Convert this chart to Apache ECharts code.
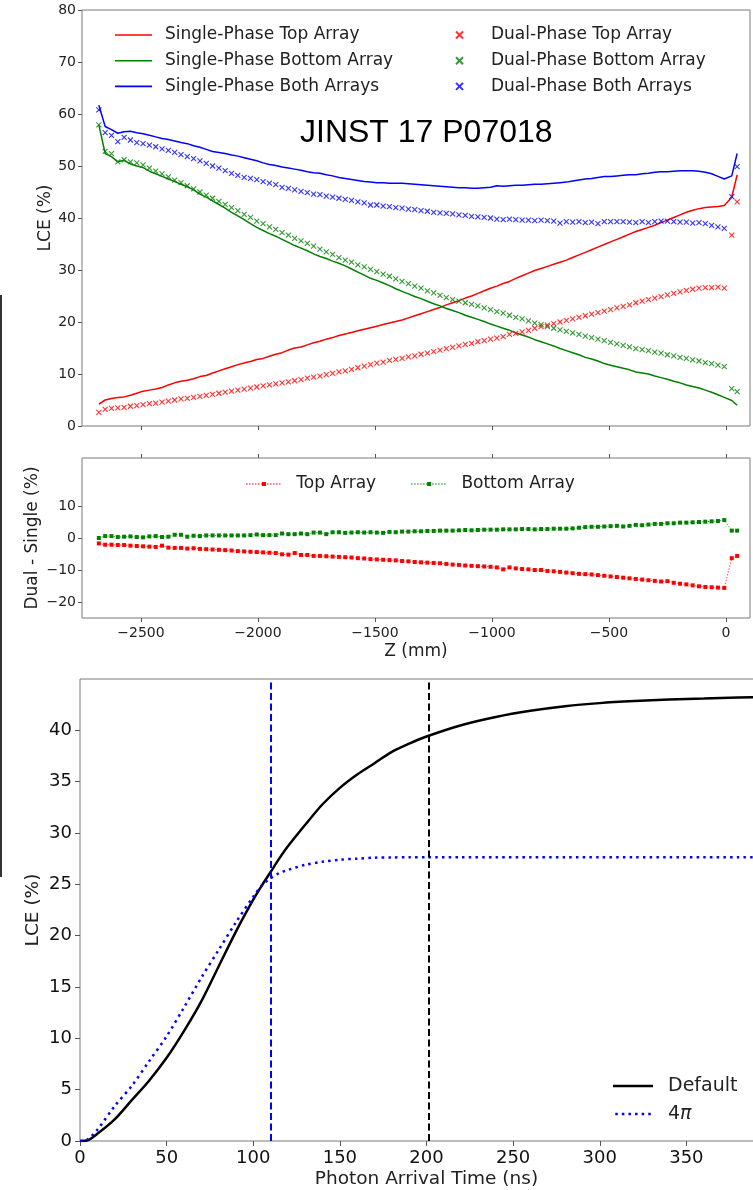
<!DOCTYPE html>
<html>
<head>
<meta charset="utf-8">
<script src="https://cdn.jsdelivr.net/npm/echarts@6/dist/echarts.min.js"></script>
<style>
  html, body { margin: 0; padding: 0; background: #fff; }
  #chart { width: 753px; height: 1190px; }
</style>
</head>
<body>
<div id="chart"></div>
<script>
// z positions (mm) shared by all LCE profiles
const zPos = [
  -2680, -2653, -2626, -2599, -2572, -2545, -2518, -2491, -2464, -2437,
  -2410, -2383, -2356, -2329, -2302, -2275, -2248, -2221, -2194, -2167,
  -2140, -2113, -2086, -2059, -2032, -2005, -1978, -1951, -1924, -1897,
  -1870, -1843, -1816, -1789, -1762, -1735, -1708, -1681, -1654, -1627,
  -1600, -1573, -1546, -1519, -1492, -1465, -1438, -1411, -1384, -1357,
  -1330, -1303, -1276, -1249, -1222, -1195, -1168, -1141, -1114, -1087,
  -1060, -1033, -1006, -979, -952, -925, -898, -871, -844, -817,
  -790, -763, -736, -709, -682, -655, -628, -601, -574, -547,
  -520, -493, -466, -439, -412, -385, -358, -331, -304, -277,
  -250, -223, -196, -169, -142, -115, -88, -61, -34, -7,
  25, 48
];

const singleTop = [
  4.2, 5.0, 5.3, 5.5, 5.6, 5.9, 6.3, 6.7, 6.9, 7.1,
  7.4, 7.9, 8.3, 8.6, 8.8, 9.1, 9.5, 9.7, 10.2, 10.6,
  11.0, 11.4, 11.8, 12.1, 12.4, 12.8, 13.0, 13.4, 13.8, 14.1,
  14.6, 15.0, 15.2, 15.6, 16.0, 16.3, 16.7, 17.0, 17.4, 17.7,
  18.0, 18.3, 18.6, 18.9, 19.2, 19.5, 19.8, 20.1, 20.4, 20.8,
  21.2, 21.6, 22.0, 22.4, 22.8, 23.3, 23.7, 24.1, 24.6, 25.0,
  25.5, 26.0, 26.5, 26.9, 27.4, 27.8, 28.4, 28.9, 29.4, 29.9,
  30.3, 30.7, 31.1, 31.5, 31.9, 32.4, 32.9, 33.4, 33.9, 34.4,
  34.9, 35.4, 35.9, 36.4, 36.9, 37.4, 37.8, 38.2, 38.6, 39.1,
  39.6, 40.1, 40.6, 41.1, 41.5, 41.8, 42.0, 42.1, 42.2, 42.4,
  44.0, 48.3
];
const singleBottom = [
  57.9, 52.4, 51.8, 50.8, 51.1, 50.4, 50.0, 49.7, 49.0, 48.5,
  48.0, 47.5, 47.0, 46.5, 46.0, 45.4, 44.6, 44.0, 43.3, 42.6,
  41.9, 41.1, 40.4, 39.7, 38.9, 38.2, 37.6, 37.0, 36.5, 35.9,
  35.3, 34.7, 34.2, 33.7, 33.1, 32.6, 32.2, 31.7, 31.3, 30.8,
  30.2, 29.6, 29.0, 28.4, 28.0, 27.5, 27.0, 26.4, 25.9, 25.4,
  24.9, 24.5, 24.0, 23.5, 23.1, 22.6, 22.2, 21.8, 21.3, 20.9,
  20.5, 20.1, 19.6, 19.2, 18.8, 18.4, 17.9, 17.5, 17.1, 16.6,
  16.2, 15.8, 15.4, 14.9, 14.5, 14.1, 13.7, 13.2, 12.9, 12.5,
  12.0, 11.7, 11.4, 11.1, 10.8, 10.4, 10.2, 10.0, 9.6, 9.3,
  9.0, 8.6, 8.3, 7.9, 7.6, 7.3, 6.9, 6.5, 6.0, 5.5,
  4.9, 4.0
];
const singleBoth = [
  61.7, 57.6, 57.0, 56.3, 56.6, 56.7, 56.4, 56.2, 55.9, 55.6,
  55.3, 55.1, 54.8, 54.5, 54.3, 53.9, 53.6, 53.2, 52.8, 52.6,
  52.4, 52.1, 51.9, 51.6, 51.3, 51.0, 50.6, 50.3, 50.1, 49.8,
  49.6, 49.4, 49.2, 48.9, 48.7, 48.6, 48.3, 48.1, 47.8, 47.6,
  47.4, 47.2, 47.0, 46.9, 46.8, 46.8, 46.7, 46.7, 46.7, 46.6,
  46.5, 46.4, 46.3, 46.2, 46.1, 46.0, 45.9, 45.8, 45.8, 45.7,
  45.7, 45.8, 45.9, 46.2, 46.1, 46.2, 46.3, 46.3, 46.4, 46.5,
  46.5, 46.6, 46.7, 46.8, 46.9, 47.1, 47.3, 47.5, 47.6, 47.8,
  48.0, 48.0, 48.1, 48.2, 48.3, 48.3, 48.5, 48.6, 48.8, 48.9,
  48.9, 49.0, 49.1, 49.1, 49.1, 49.0, 48.8, 48.5, 48.0, 47.5,
  48.1, 52.4
];
const dualTop = [
  2.6, 3.2, 3.4, 3.5, 3.6, 3.8, 3.9, 4.1, 4.3, 4.4,
  4.6, 4.8, 5.0, 5.2, 5.3, 5.5, 5.7, 5.9, 6.1, 6.3,
  6.5, 6.7, 6.9, 7.1, 7.3, 7.5, 7.7, 7.9, 8.1, 8.3,
  8.5, 8.7, 8.9, 9.2, 9.4, 9.6, 9.9, 10.1, 10.4, 10.6,
  10.9, 11.2, 11.5, 11.8, 12.1, 12.3, 12.6, 12.8, 13.0, 13.3,
  13.5, 13.8, 14.0, 14.3, 14.6, 14.9, 15.1, 15.4, 15.7, 15.9,
  16.2, 16.4, 16.7, 16.9, 17.2, 17.6, 17.8, 18.1, 18.4, 18.8,
  19.1, 19.4, 19.7, 20.0, 20.3, 20.6, 20.9, 21.2, 21.5, 21.8,
  22.1, 22.4, 22.7, 23.0, 23.3, 23.7, 24.0, 24.3, 24.6, 24.9,
  25.2, 25.5, 25.8, 26.1, 26.3, 26.5, 26.6, 26.6, 26.7, 26.5,
  36.7, 43.1
];
const dualBottom = [
  57.9, 52.8, 52.4, 50.8, 51.2, 50.8, 50.6, 50.2, 49.6, 49.0,
  48.5, 47.9, 47.3, 46.8, 46.2, 45.6, 45.0, 44.4, 43.8, 43.2,
  42.6, 42.0, 41.4, 40.7, 40.1, 39.4, 38.9, 38.3, 37.8, 37.2,
  36.7, 36.1, 35.6, 35.1, 34.6, 34.0, 33.5, 33.0, 32.4, 31.9,
  31.5, 31.0, 30.6, 30.1, 29.7, 29.2, 28.8, 28.3, 27.8, 27.4,
  26.9, 26.5, 26.0, 25.6, 25.1, 24.7, 24.3, 24.0, 23.7, 23.4,
  23.1, 22.7, 22.4, 22.0, 21.7, 21.3, 20.9, 20.6, 20.2, 19.8,
  19.5, 19.1, 18.8, 18.5, 18.2, 17.9, 17.6, 17.3, 17.0, 16.7,
  16.4, 16.1, 15.8, 15.5, 15.2, 14.9, 14.7, 14.5, 14.2, 14.0,
  13.7, 13.5, 13.2, 13.0, 12.7, 12.5, 12.2, 12.0, 11.7, 11.4,
  7.2, 6.6
];
const dualBoth = [
  60.8, 56.4, 55.9, 54.7, 55.5, 55.0, 54.5, 54.3, 54.0, 53.7,
  53.3, 53.0, 52.6, 52.2, 51.8, 51.4, 51.0, 50.5, 50.0, 49.6,
  49.1, 48.6, 48.2, 47.8, 47.6, 47.4, 47.0, 46.7, 46.4, 45.9,
  45.7, 45.4, 45.1, 44.9, 44.6, 44.5, 44.2, 44.0, 43.8, 43.6,
  43.4, 43.1, 42.9, 42.5, 42.5, 42.3, 42.2, 42.0, 41.9, 41.7,
  41.6, 41.4, 41.3, 41.1, 41.0, 40.9, 40.8, 40.6, 40.5, 40.3,
  40.2, 40.1, 40.0, 39.8, 39.7, 39.8, 39.7, 39.6, 39.6, 39.5,
  39.6, 39.5, 39.4, 39.0, 39.3, 39.2, 39.3, 39.1, 39.2, 38.9,
  39.3, 39.3, 39.3, 39.3, 39.2, 39.1, 39.3, 39.1, 39.3, 39.4,
  39.4, 39.3, 39.2, 39.2, 39.0, 39.1, 38.9, 38.6, 38.3, 38.0,
  44.1, 49.9
];

// dual minus single (%)
const diffTop = [
  -1.7, -2.1, -2.1, -2.2, -2.2, -2.4, -2.5, -2.6, -2.7, -2.8,
  -2.4, -3.0, -3.1, -3.1, -3.3, -3.2, -3.4, -3.5, -3.6, -3.7,
  -3.8, -3.9, -4.1, -4.2, -4.3, -4.4, -4.5, -4.6, -4.7, -5.1,
  -5.2, -4.7, -5.3, -5.3, -5.6, -5.6, -5.7, -5.8, -5.9, -6.0,
  -6.1, -6.3, -6.4, -6.6, -6.7, -6.8, -6.9, -7.0, -7.2, -7.3,
  -7.5, -7.6, -7.7, -7.8, -7.9, -8.1, -8.3, -8.4, -8.6, -8.7,
  -8.8, -8.9, -9.0, -9.2, -9.8, -9.2, -9.5, -9.7, -9.8, -10.0,
  -10.0, -10.3, -10.4, -10.6, -10.8, -11.0, -11.2, -11.3, -11.4, -11.6,
  -11.8, -12.0, -12.2, -12.4, -12.6, -12.8, -13.0, -13.2, -13.4, -13.6,
  -13.5, -14.0, -14.3, -14.5, -14.8, -15.1, -15.3, -15.4, -15.5, -15.6,
  -6.3, -5.6
];
const diffBottom = [
  0.0, 0.6, 0.6, 0.3, 0.4, 0.5, 0.3, 0.2, 0.5, 0.6,
  0.3, 0.4, 1.0, 1.0, 0.4, 0.7, 0.6, 0.8, 0.8, 0.8,
  0.8, 0.8, 0.8, 0.8, 0.9, 1.1, 0.9, 0.9, 0.9, 1.4,
  1.2, 1.2, 1.4, 1.2, 1.7, 1.7, 1.2, 1.8, 1.8, 1.6,
  1.7, 1.8, 1.7, 1.8, 1.7, 1.6, 1.9, 1.8, 2.0, 2.0,
  2.1, 2.1, 2.2, 2.2, 2.3, 2.3, 2.3, 2.4, 2.5, 2.4,
  2.5, 2.6, 2.6, 2.6, 2.7, 2.7, 2.7, 2.8, 2.8, 2.7,
  2.8, 2.8, 2.9, 2.9, 2.9, 3.0, 3.2, 3.4, 3.5, 3.5,
  3.6, 3.7, 3.8, 3.6, 3.8, 4.1, 4.0, 4.2, 4.4, 4.4,
  4.6, 4.6, 4.8, 4.8, 4.9, 5.0, 5.1, 5.2, 5.3, 5.6,
  2.3, 2.3
];

// LCE vs photon arrival time
const arrivalTime = [0, 4, 10, 20, 30, 40, 50, 60, 70, 80, 90, 100, 105, 110, 115, 120, 130, 140, 150, 160,
  170, 180, 190, 200, 220, 240, 260, 280, 300, 320, 340, 360, 380, 400];
const lceDefault = [0, 0.05, 0.7, 2.1, 4.0, 5.9, 8.1, 10.7, 13.6, 17.0, 20.4, 23.5, 24.9, 26.2, 27.5, 28.7, 30.8, 32.8, 34.4, 35.7,
  36.8, 37.9, 38.7, 39.4, 40.5, 41.3, 41.9, 42.35, 42.65, 42.85, 43.0, 43.1, 43.2, 43.25];
const lce4pi = [0, 0.1, 1.1, 3.4, 5.4, 7.8, 10.2, 13.0, 15.9, 18.6, 21.3, 23.8, 24.9, 25.6, 26.1, 26.4, 26.9, 27.2, 27.4, 27.5,
  27.6, 27.62, 27.64, 27.65, 27.65, 27.65, 27.65, 27.65, 27.65, 27.65, 27.65, 27.65, 27.65, 27.65];
const cutDefault = 201.5;
const cut4pi = 110;

const RED = '#ff0000', GREEN = '#008000', BLUE = '#0000ff';
const FRAME = '#7a7a7a', TXT = '#222';
const zTicks = [-2500, -2000, -1500, -1000, -500, 0];
const xMark = 'path://M0,0L10,10M10,0L0,10';

// legend icons: dotted line (optionally with a square marker in the middle)
const dottedIcon = (w, step, dot, square) => {
  let p = 'path://';
  for (let x = 0; x + dot <= w; x += step) p += `M${x},${square ? 1.6 : 0}h${dot}v${square ? 0.8 : dot}h-${dot}z`;
  if (square) p += `M${w / 2 - 2},0h4v4h-4z`;
  return p;
};

const pairs = (ys) => zPos.map((z, i) => [z, ys[i]]);
const tPairs = (ys) => arrivalTime.map((t, i) => [t, ys[i]]);
const minus = (v) => (v < 0 ? '\u2212' + Math.abs(v) : String(v));

const chart = echarts.init(document.getElementById('chart'));

const gridBase = { show: true, borderColor: FRAME, borderWidth: 1, backgroundColor: 'transparent', outerBoundsMode: 'none' };

const zAxis = (grid, extra) => Object.assign({
  type: 'value', gridIndex: grid, min: -2752, max: 103,
  axisLine: { show: false, onZero: false }, splitLine: { show: false },
  axisTick: { show: true, length: 4, lineStyle: { color: '#555' }, customValues: zTicks },
  axisLabel: { show: false }
}, extra);

const lineSeries = (name, data, color) => ({
  name, type: 'line', data: pairs(data), xAxisIndex: 0, yAxisIndex: 0,
  symbol: 'none', showSymbol: false, lineStyle: { color, width: 1.5 }, itemStyle: { color }, z: 3
});
const crossSeries = (name, data, color) => ({
  name, type: 'scatter', data: pairs(data), xAxisIndex: 0, yAxisIndex: 0,
  symbol: xMark, symbolSize: 5,
  itemStyle: { color: 'rgba(0,0,0,0)', borderColor: color, borderWidth: 1.1 }, z: 4
});
const diffSeries = (name, data, color) => ({
  name, type: 'line', data: pairs(data), xAxisIndex: 1, yAxisIndex: 1,
  symbol: 'rect', symbolSize: 4, showSymbol: true,
  lineStyle: { color, width: 1, type: [1.5, 1.5], opacity: 0.7 }, itemStyle: { color }
});

chart.setOption({
  animation: false,
  backgroundColor: '#fff',
  textStyle: { fontFamily: 'DejaVu Sans' },
  grid: [
    Object.assign({ left: 82, top: 10, width: 668, height: 416 }, gridBase),
    Object.assign({ left: 82, top: 458, width: 668, height: 160 }, gridBase),
    Object.assign({ left: 80, top: 679, width: 693, height: 462 }, gridBase)
  ],
  xAxis: [
    zAxis(0, {}),
    zAxis(1, {
      name: 'Z (mm)', nameLocation: 'middle', nameGap: 25, nameMoveOverlap: false,
      nameTextStyle: { fontSize: 17, color: TXT, verticalAlign: 'top' },
      axisLabel: { show: true, fontSize: 14, color: TXT, margin: 8, customValues: zTicks, formatter: minus }
    }),
    zAxis(1, { position: 'top' }),
    {
      type: 'value', gridIndex: 2, min: 0, max: 400, interval: 50,
      name: 'Photon Arrival Time (ns)', nameLocation: 'middle', nameGap: 29, nameMoveOverlap: false,
      nameTextStyle: { fontSize: 18.5, color: TXT, verticalAlign: 'top' },
      axisLine: { show: false, onZero: false }, splitLine: { show: false },
      axisTick: { length: 5, lineStyle: { color: '#555' } },
      axisLabel: { fontSize: 18, color: '#111', margin: 8 }
    }
  ],
  yAxis: [
    {
      type: 'value', gridIndex: 0, min: 0, max: 80, interval: 10,
      name: 'LCE (%)', nameLocation: 'middle', nameGap: 28, nameMoveOverlap: false,
      nameTextStyle: { fontSize: 17, color: TXT },
      axisLine: { show: false, onZero: false }, splitLine: { show: false },
      axisTick: { length: 4, lineStyle: { color: '#555' } },
      axisLabel: { fontSize: 14, color: TXT, margin: 6 }
    },
    {
      type: 'value', gridIndex: 1, min: -25, max: 25, interval: 5,
      name: 'Dual - Single (%)', nameLocation: 'middle', nameGap: 41, nameMoveOverlap: false,
      nameTextStyle: { fontSize: 17, color: TXT },
      axisLine: { show: false, onZero: false }, splitLine: { show: false },
      axisTick: { length: 4, lineStyle: { color: '#555' }, customValues: [-20, -10, 0, 10] },
      axisLabel: { fontSize: 14, color: TXT, margin: 6, customValues: [-20, -10, 0, 10], formatter: minus }
    },
    {
      type: 'value', gridIndex: 2, min: 0, max: 45, interval: 5,
      name: 'LCE (%)', nameLocation: 'middle', nameGap: 37, nameMoveOverlap: false,
      nameTextStyle: { fontSize: 18.5, color: TXT },
      axisLine: { show: false, onZero: false }, splitLine: { show: false },
      axisTick: { length: 5, lineStyle: { color: '#555' }, customValues: [0, 5, 10, 15, 20, 25, 30, 35, 40] },
      axisLabel: { fontSize: 18, color: '#111', margin: 8, customValues: [0, 5, 10, 15, 20, 25, 30, 35, 40] }
    }
  ],
  legend: [
    {
      data: [
        { name: 'Single-Phase Top Array', icon: 'rect' },
        { name: 'Single-Phase Bottom Array', icon: 'rect' },
        { name: 'Single-Phase Both Arrays', icon: 'rect' }
      ],
      orient: 'vertical', left: 115, top: 26, padding: 0,
      itemWidth: 37, itemHeight: 1.6, itemGap: 7.7, itemStyle: { borderWidth: 0 },
      textStyle: { fontSize: 17, color: TXT, lineHeight: 18, padding: [0, 0, 0, 8] }
    },
    {
      data: ['Dual-Phase Top Array', 'Dual-Phase Bottom Array', 'Dual-Phase Both Arrays'],
      orient: 'vertical', left: 455, top: 26, padding: 0,
      itemWidth: 7, itemHeight: 18, itemGap: 7.7,
      textStyle: { fontSize: 17, color: TXT, lineHeight: 18, padding: [0, 0, 0, 23] }
    },
    {
      data: [
        { name: 'Top Array', icon: dottedIcon(36, 3, 1.5, true) },
        { name: 'Bottom Array', icon: dottedIcon(36, 3, 1.5, true) }
      ],
      orient: 'horizontal', left: 246, top: 475, padding: 0,
      itemWidth: 36, itemHeight: 4, itemGap: 35, itemStyle: { borderWidth: 0 },
      textStyle: { fontSize: 17, color: TXT, lineHeight: 18, padding: [0, 0, 0, 10] }
    },
    {
      data: [
        { name: 'Default', icon: 'rect' },
        { name: '4π', icon: dottedIcon(40, 6.6, 2.5, false) }
      ],
      orient: 'vertical', left: 613, top: 1076, padding: 0,
      itemWidth: 40, itemHeight: 2.5, itemGap: 8, itemStyle: { borderWidth: 0 },
      formatter: (n) => (n === '4π' ? '4{it|π}' : n),
      textStyle: {
        fontSize: 19, color: TXT, lineHeight: 20, padding: [0, 0, 0, 10],
        rich: { it: { fontSize: 19, fontStyle: 'italic', color: TXT } }
      }
    }
  ],
  graphic: [
    {
      type: 'text', left: 300, top: 117, z: 10,
      style: { text: 'JINST 17 P07018', font: '32px "Liberation Sans"', fill: '#000' }
    },
    {
      type: 'rect', left: 0, top: 295, z: 10,
      shape: { width: 2, height: 582 }, style: { fill: '#333' }
    }
  ],
  series: [
    lineSeries('Single-Phase Top Array', singleTop, RED),
    lineSeries('Single-Phase Bottom Array', singleBottom, GREEN),
    lineSeries('Single-Phase Both Arrays', singleBoth, BLUE),
    crossSeries('Dual-Phase Top Array', dualTop, RED),
    crossSeries('Dual-Phase Bottom Array', dualBottom, GREEN),
    crossSeries('Dual-Phase Both Arrays', dualBoth, BLUE),
    diffSeries('Top Array', diffTop, RED),
    diffSeries('Bottom Array', diffBottom, GREEN),
    {
      name: 'Default', type: 'line', data: tPairs(lceDefault), xAxisIndex: 3, yAxisIndex: 2,
      symbol: 'none', smooth: 0.3, lineStyle: { color: '#000', width: 2.5 }, itemStyle: { color: '#000' },
      markLine: {
        silent: true, symbol: 'none', label: { show: false },
        lineStyle: { color: '#000', width: 2, type: [7, 3.5] },
        data: [{ xAxis: cutDefault }]
      }
    },
    {
      name: '4π', type: 'line', data: tPairs(lce4pi), xAxisIndex: 3, yAxisIndex: 2,
      symbol: 'none', smooth: 0.3, lineStyle: { color: BLUE, width: 2.5, type: [2.5, 4.2] }, itemStyle: { color: BLUE },
      markLine: {
        silent: true, symbol: 'none', label: { show: false },
        lineStyle: { color: BLUE, width: 2, type: [7, 3.5] },
        data: [{ xAxis: cut4pi }]
      }
    }
  ]
});
</script>
</body>
</html>
